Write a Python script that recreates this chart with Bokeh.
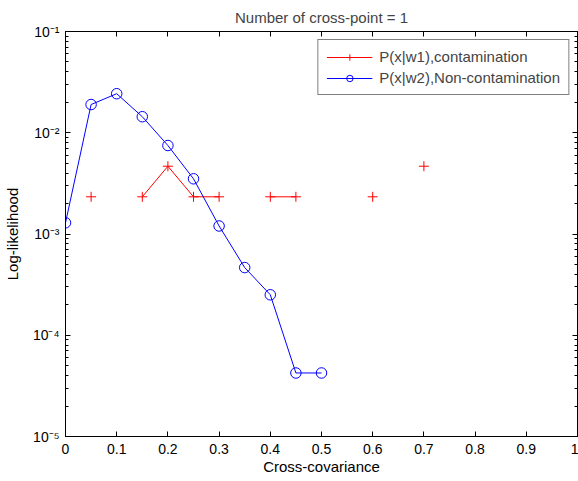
import math
from bokeh.plotting import figure
from bokeh.models import (LogAxis, LinearAxis, Range1d, FixedTicker,
                          CustomJSTickFormatter, Legend, LegendItem)
from bokeh.embed import file_html
from bokeh.resources import INLINE

nan = float("nan")

# ---- data ----
x_red = [0.00, 0.05, 0.10, 0.15, 0.20, 0.25, 0.30, 0.35, 0.40, 0.45, 0.50, 0.55, 0.60, 0.65, 0.70]
y_red = [nan, 0.00233, nan, 0.00233, 0.00467, 0.00233, 0.00233, nan, 0.00233, 0.00233, nan, nan, 0.00233, nan, 0.00467]

x_blue = [0.00, 0.05, 0.10, 0.15, 0.20, 0.25, 0.30, 0.35, 0.40, 0.45, 0.50]
y_blue = [0.00129, 0.0190, 0.0243, 0.0144, 0.00748, 0.00351, 0.00120, 0.000466, 0.000251, 0.0000424, 0.0000424]

x_ticks = [0.0, 0.1, 0.2, 0.3, 0.4, 0.5, 0.6, 0.7, 0.8, 0.9, 1.0]
x_tick_labels = ["0", "0.1", "0.2", "0.3", "0.4", "0.5", "0.6", "0.7", "0.8", "0.9", "1"]
y_ticks = [1e-5, 1e-4, 1e-3, 1e-2, 1e-1]
y_tick_labels = ["10\u207b\u2075", "10\u207b\u2074", "10\u207b\u00b3", "10\u207b\u00b2", "10\u207b\u00b9"]

series_names = ["P(x|w1),contamination", "P(x|w2),Non-contamination"]
title_text = "Number of cross-point = 1"
x_label = "Cross-covariance"
y_label = "Log-likelihood"

FONT = "Liberation Sans"

y_minor = [m * 10.0 ** e for e in range(-5, -1) for m in range(2, 10)]

p = figure(width=578, height=481, y_axis_type="log",
           x_range=Range1d(0, 1), y_range=Range1d(1e-5, 1e-1),
           output_backend="svg", toolbar_location=None,
           min_border_left=64, min_border_right=1, min_border_top=30, min_border_bottom=45)

p.title.text = title_text
p.title.align = "center"
p.title.text_font = FONT
p.title.text_font_style = "normal"
p.title.text_font_size = "15px"
p.title.offset = 0
p.title.standoff = 12

p.xgrid.visible = False
p.ygrid.visible = False
p.outline_line_color = "black"
p.background_fill_color = "white"
p.border_fill_color = "white"

yfmt = CustomJSTickFormatter(args=dict(tv=y_ticks, lab=y_tick_labels), code="""
const i = tv.findIndex(t => Math.abs(Math.log10(t) - Math.log10(tick)) < 1e-6);
return i >= 0 ? lab[i] : '';
""")
xfmt = CustomJSTickFormatter(args=dict(tv=x_ticks, lab=x_tick_labels), code="""
const i = tv.findIndex(t => Math.abs(t - tick) < 1e-6);
return i >= 0 ? lab[i] : '';
""")
blank = CustomJSTickFormatter(code="return '';")

def style(ax):
    ax.axis_line_color = "black"
    ax.major_tick_line_color = "black"
    ax.minor_tick_line_color = "black"
    ax.major_tick_in = 5
    ax.major_tick_out = 0
    ax.minor_tick_in = 3
    ax.minor_tick_out = 0
    ax.major_label_text_font = FONT
    ax.major_label_text_font_size = "14px"
    ax.major_label_text_color = "black"
    ax.axis_label_text_font = FONT
    ax.axis_label_text_font_size = "15px"
    ax.axis_label_text_font_style = "normal"
    ax.axis_label_text_color = "black"

xax = p.xaxis[0]
xax.ticker = FixedTicker(ticks=x_ticks, minor_ticks=[])
xax.formatter = xfmt
xax.axis_label = x_label
style(xax)
xax.major_label_standoff = 7
xax.axis_label_standoff = 1

yax = p.yaxis[0]
yax.ticker = FixedTicker(ticks=y_ticks, minor_ticks=y_minor)
yax.formatter = yfmt
yax.axis_label = y_label
style(yax)
yax.major_label_standoff = 6
yax.axis_label_standoff = 9

top = LinearAxis(ticker=FixedTicker(ticks=x_ticks, minor_ticks=[]), formatter=blank)
style(top)
top.major_label_standoff = 0
top.major_label_text_font_size = "0px"
top.axis_label_standoff = 0
p.add_layout(top, "above")

right = LogAxis(ticker=FixedTicker(ticks=y_ticks, minor_ticks=y_minor), formatter=blank)
style(right)
right.major_label_standoff = 0
right.major_label_text_font_size = "0px"
right.axis_label_standoff = 0
p.add_layout(right, "right")

r_line = p.line(x_red, y_red, line_color="#ff0000", line_width=1)
r_mark = p.scatter(x_red, y_red, marker="cross", size=10, line_color="#ff0000", line_width=1)
b_line = p.line(x_blue, y_blue, line_color="#0000ff", line_width=1)
b_mark = p.scatter(x_blue, y_blue, marker="circle", size=10.5, line_color="#0000ff",
                   fill_color=None, line_width=1)

legend = Legend(items=[LegendItem(label=series_names[0], renderers=[r_line, r_mark]),
                       LegendItem(label=series_names[1], renderers=[b_line, b_mark])],
                location="top_right")
legend.label_text_font = FONT
legend.label_text_font_size = "15px"
legend.glyph_width = 46
legend.glyph_height = 16
legend.label_height = 16
legend.spacing = 4
legend.padding = 8
legend.margin = 8
legend.border_line_color = "black"
legend.border_line_width = 1
legend.label_standoff = 7
p.add_layout(legend)

open("out.html", "w").write(file_html(p, INLINE))
